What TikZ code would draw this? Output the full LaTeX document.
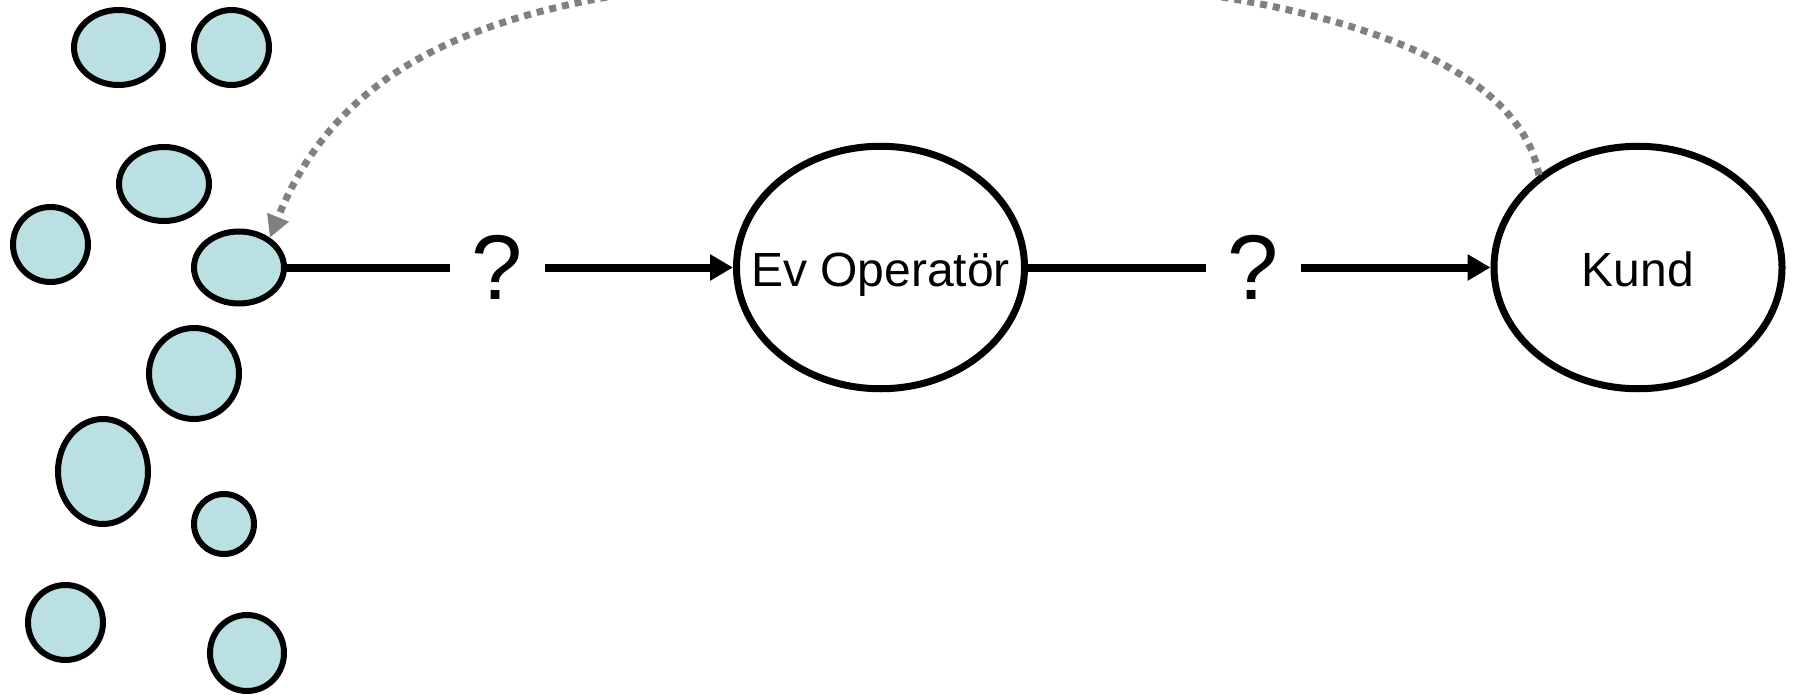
\documentclass[tikz,border=0pt]{standalone}
\usepackage{fontspec}
\setmainfont{Liberation Sans}
\usetikzlibrary{arrows.meta,shapes.geometric}
\definecolor{blobfill}{RGB}{186,224,227}
\definecolor{arcgray}{RGB}{128,128,128}
\begin{document}
\begin{tikzpicture}[x=1pt,y=-1pt,
  blob/.style={ellipse, draw=black, fill=blobfill, line width=6pt, inner sep=0pt},
  big/.style={ellipse, draw=black, line width=7pt, inner sep=0pt,
    minimum width=288pt, minimum height=242.5pt},
  bigtext/.style={font=\fontsize{48}{58}\selectfont, text height=37pt, text depth=0pt, inner sep=0pt},
  qmark/.style={inner sep=0pt, minimum width=94pt, font=\fontsize{92}{110}\selectfont},
  link/.style={line width=8pt},
  arrowlink/.style={link, -{Triangle[length=23pt,width=25pt]}},
  backlink/.style={draw=arcgray, line width=7pt, dash pattern=on 7pt off 6pt,
    -{Triangle[length=22pt,width=22pt,fill=arcgray]}}]
\path[use as bounding box, clip] (0,0) rectangle (1793,695);

% small cluster of ellipses
\node[blob, minimum width=89pt, minimum height=75pt] (c1) at (118.5,47.5) {};
\node[blob, minimum width=75pt, minimum height=75pt] (c2) at (231.5,47.5) {};
\node[blob, minimum width=90pt, minimum height=74pt] (c3) at (164,184) {};
\node[blob, minimum width=75pt, minimum height=75pt] (c4) at (50.5,244.5) {};
\node[blob, minimum width=90pt, minimum height=72pt] (c5) at (239,267.5) {};
\node[blob, minimum width=90pt, minimum height=91pt] (c6) at (194,373.5) {};
\node[blob, minimum width=90pt, minimum height=105pt] (c7) at (103,471.5) {};
\node[blob, minimum width=60pt, minimum height=60pt] (c8) at (224,524) {};
\node[blob, minimum width=75pt, minimum height=75pt] (c9) at (65.5,622.5) {};
\node[blob, minimum width=74pt, minimum height=76pt] (c10) at (247,653) {};

% main nodes
\node[big] (op) at (880.5,267.5) {};
\node[bigtext] (optext) at (op.center) {Ev Operatör};
\node[big] (kund) at (1638,267.5) {};
\node[bigtext] (kundtext) at (kund.center) {Kund};

% question marks
\node[qmark] (q1) at (497.5,267.5) {?};
\node[qmark] (q2) at (1253.5,267.5) {?};

% connectors
\draw[link] (c5) -- (q1);
\draw[arrowlink] (q1) -- (op);
\draw[link] (op) -- (q2);
\draw[arrowlink] (q2) -- (kund);

% dotted feedback arc
\draw[backlink] (kund.137) .. controls (1515,40) and (1250,-25) .. (917,-25)
  .. controls (520,-25) and (346,48) .. (c5.44);
\end{tikzpicture}
\end{document}
